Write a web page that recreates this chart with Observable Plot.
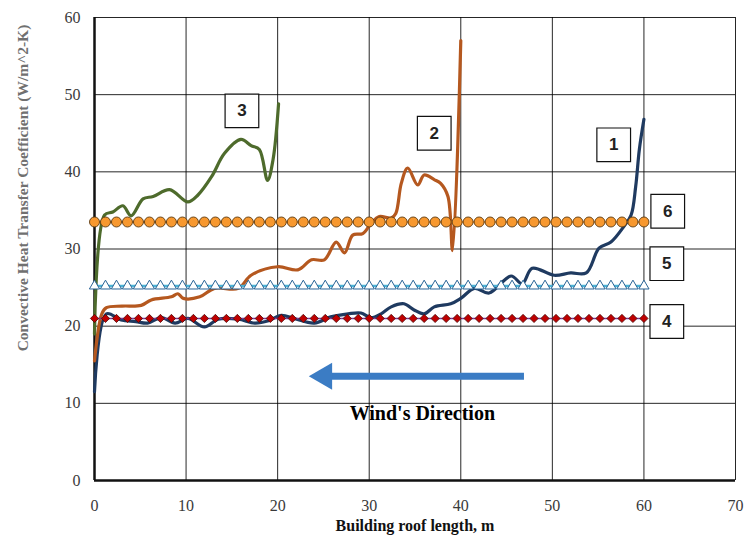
<!DOCTYPE html>
<html>
<head>
<meta charset="utf-8">
<script src="https://cdn.jsdelivr.net/npm/d3@7"></script>
<script src="https://cdn.jsdelivr.net/npm/@observablehq/plot@0.6"></script>
<style>
  html, body { margin: 0; padding: 0; background: #fff; }
  #chart { width: 744px; height: 541px; }
  #chart g[aria-label$="tick label"], #chart g[aria-label$="tick label"] text {
    font-family: 'Liberation Serif', 'DejaVu Serif', serif !important;
    font-size: 16px;
  }
</style>
</head>
<body>
<div id="chart"></div>
<script>
// ---- Data ----
const xTicks = [0, 10, 20, 30, 40, 50, 60, 70];
const yTicks = [0, 10, 20, 30, 40, 50, 60];

// Curve 1 (dark blue) – 60 m roof
const s1x = [0, 1.3, 2.9, 4.5, 5.8, 7.3, 8.8, 10.2, 12.0, 13.5, 15.7, 17.5, 19.0, 20.4, 21.8, 24.0, 25.8, 27.7, 29.1, 30.2, 31.3, 32.4, 33.8, 34.9, 36.0, 37.1, 38.9, 40.0, 41.5, 43.1, 45.5, 46.7, 47.8, 50.2, 52.0, 53.7, 55.1, 56.4, 57.8, 58.6, 59.1, 59.5, 60.0];
const s1y = [11.5, 21.6, 20.8, 20.6, 20.4, 21.1, 20.4, 21.0, 19.9, 20.9, 20.9, 20.4, 20.7, 21.4, 21.0, 20.4, 21.2, 21.6, 21.7, 21.1, 21.6, 22.5, 22.9, 22.1, 21.6, 22.5, 22.9, 23.6, 24.9, 24.3, 26.5, 25.5, 27.5, 26.6, 26.9, 26.9, 30.1, 30.9, 32.9, 34.4, 38.1, 42.9, 46.8];

// Curve 2 (brown-orange) – 40 m roof
const s2x = [0, 0.8, 1.3, 3.0, 5.1, 6.2, 8.4, 9.1, 9.7, 11.5, 13.1, 15.7, 17.1, 20.0, 22.2, 23.7, 25.1, 26.4, 27.3, 28.2, 29.3, 30.2, 31.1, 32.4, 32.9, 33.5, 34.2, 35.3, 36.0, 37.1, 37.8, 38.6, 39.1, 40.0];
const s2y = [15.5, 21.6, 22.4, 22.6, 22.7, 23.4, 23.8, 24.2, 23.6, 23.8, 24.9, 24.9, 26.6, 27.7, 27.3, 28.6, 28.6, 30.9, 29.5, 31.8, 32.0, 33.3, 34.2, 34.0, 34.6, 38.5, 40.5, 38.3, 39.6, 39.0, 38.5, 36.8, 29.8, 57.0];

// Curve 3 (green) – 20 m roof
const s3x = [0, 1.1, 2.0, 3.1, 4.0, 5.3, 6.4, 8.2, 10.2, 11.3, 12.8, 14.2, 16.0, 17.1, 18.0, 18.9, 19.5, 20.1];
const s3y = [19.0, 34.4, 34.8, 35.6, 34.3, 36.5, 36.8, 37.7, 36.1, 37.0, 39.4, 42.4, 44.2, 43.4, 42.9, 38.9, 41.6, 48.8];

// Constant correlations 4, 5, 6 (marker positions along roof)
const markerX = [0, 1.2, 2.4, 3.6, 4.8, 6, 7.2, 8.4, 9.6, 10.8, 12, 13.2, 14.4, 15.6, 16.8, 18, 19.2, 20.4, 21.6, 22.8, 24, 25.2, 26.4, 27.6, 28.8, 30, 31.2, 32.4, 33.6, 34.8, 36, 37.2, 38.4, 39.6, 40.8, 42, 43.2, 44.4, 45.6, 46.8, 48, 49.2, 50.4, 51.6, 52.8, 54, 55.2, 56.4, 57.6, 58.8, 60];
const s4value = 21.0;
const s5value = 25.2;
const s6value = 33.5;

// Numbered label boxes
const boxLabels = ["1", "2", "3", "4", "5", "6"];
const boxX = [56.7, 37.1, 16.1, 62.5, 62.5, 62.6];
const boxY = [43.5, 45.0, 47.9, 20.6, 28.1, 34.9];

// Wind arrow annotation
const windFromX = 46.9;
const windToX = 25.4;
const windHeadX = 25.1;
const windY = 13.5;
const windText = "Wind's Direction";
const windTextX = 35.8;
const windTextY = 8.7;

const xLabel = "Building roof length, m";
const yLabel = "Convective Heat Transfer Coefficient (W/m^2-K)";

// ---- Build tables ----
const serif = "'Liberation Serif', 'DejaVu Serif', serif";
const zip = (xs, ys) => xs.map((x, i) => ({x, y: ys[i]}));
const c1 = zip(s1x, s1y);
const c2 = zip(s2x, s2y);
const c3 = zip(s3x, s3y);
const h4 = markerX.map(x => ({x, y: s4value}));
const h5 = markerX.map(x => ({x, y: s5value}));
const h6 = markerX.map(x => ({x, y: s6value}));
const boxes = boxLabels.map((t, i) => ({t, x: boxX[i], y: boxY[i]}));

const chart = Plot.plot({
  width: 744,
  height: 541,
  marginLeft: 94,
  marginRight: 9,
  marginTop: 17,
  marginBottom: 61,
  x: {domain: [0, 70]},
  y: {domain: [0, 60]},
  style: {fontFamily: serif, fontSize: "16px", color: "#3a3a3a", background: "#fff"},
  marks: [
    Plot.gridX(xTicks, {stroke: "#000", strokeOpacity: 0.85, strokeWidth: 1}),
    Plot.gridY(yTicks, {stroke: "#000", strokeOpacity: 0.85, strokeWidth: 1}),
    Plot.ruleX([0], {stroke: "#111", strokeWidth: 2.5}),
    Plot.ruleY([0], {stroke: "#111", strokeWidth: 2.5}),
    Plot.axisX(xTicks, {tickSize: 0, tickPadding: 19, label: null, fontSize: 16, fontFamily: serif, fill: "#3a3a3a"}),
    Plot.axisY(yTicks, {tickSize: 0, tickPadding: 14, label: null, fontSize: 16, fontFamily: serif, fill: "#3a3a3a"}),

    // Curves 1–3
    Plot.line(c1, {x: "x", y: "y", stroke: "#1f3a60", strokeWidth: 3.2, curve: "catmull-rom"}),
    Plot.line(c2, {x: "x", y: "y", stroke: "#b5581f", strokeWidth: 3.2, curve: "catmull-rom"}),
    Plot.line(c3, {x: "x", y: "y", stroke: "#4e6b2c", strokeWidth: 3.2, curve: "catmull-rom"}),

    // Constant series 4 (diamonds)
    Plot.line(h4, {x: "x", y: "y", stroke: "#7b3fa0", strokeWidth: 1.5}),
    Plot.dot(h4, {x: "x", y: "y", symbol: "diamond2", r: 3.7, fill: "#c00000", stroke: "#4a0a0a", strokeWidth: 0.8}),
    // Constant series 5 (triangles)
    Plot.line(h5, {x: "x", y: "y", stroke: "#4bb4d6", strokeWidth: 2.5}),
    Plot.dot(h5, {x: "x", y: "y", symbol: "triangle", r: 3.8, fill: "#fff", stroke: "#2a6496", strokeWidth: 1}),
    // Constant series 6 (circles)
    Plot.line(h6, {x: "x", y: "y", stroke: "#e89030", strokeWidth: 1.5}),
    Plot.dot(h6, {x: "x", y: "y", r: 5, fill: "#f7982f", stroke: "#5a3a12", strokeWidth: 0.9}),

    // Numbered boxes
    Plot.dot(boxes, {x: "x", y: "y", symbol: "square", r: 19, fill: "#fff", stroke: "#111", strokeWidth: 1.2}),
    Plot.text(boxes, {x: "x", y: "y", text: "t", fontFamily: "'Liberation Sans', Arial, sans-serif", fontWeight: "bold", fontSize: 17, fill: "#222"}),

    // Wind arrow
    Plot.link([{x1: windFromX, x2: windToX, y: windY}], {x1: "x1", x2: "x2", y1: "y", y2: "y", stroke: "#3b7cc4", strokeWidth: 7}),
    Plot.dot([{x: windHeadX, y: windY}], {x: "x", y: "y", symbol: "triangle", r: 10, rotate: -90, fill: "#3b7cc4", stroke: "none"}),
    Plot.text([windText], {x: windTextX, y: windTextY, text: d => d, fontWeight: "bold", fontSize: 20, fill: "#000", fontFamily: serif}),

    // Axis titles
    Plot.text([xLabel], {frameAnchor: "bottom", dy: 50, text: d => d, fontWeight: "bold", fontSize: 16, fill: "#111", fontFamily: serif}),
    Plot.text([yLabel], {frameAnchor: "left", textAnchor: "middle", dx: -71, dy: -61, rotate: -90, text: d => d, fontWeight: "bold", fontSize: 15.5, fill: "#707070", fontFamily: serif})
  ]
});
document.getElementById("chart").appendChild(chart);
</script>
</body>
</html>
